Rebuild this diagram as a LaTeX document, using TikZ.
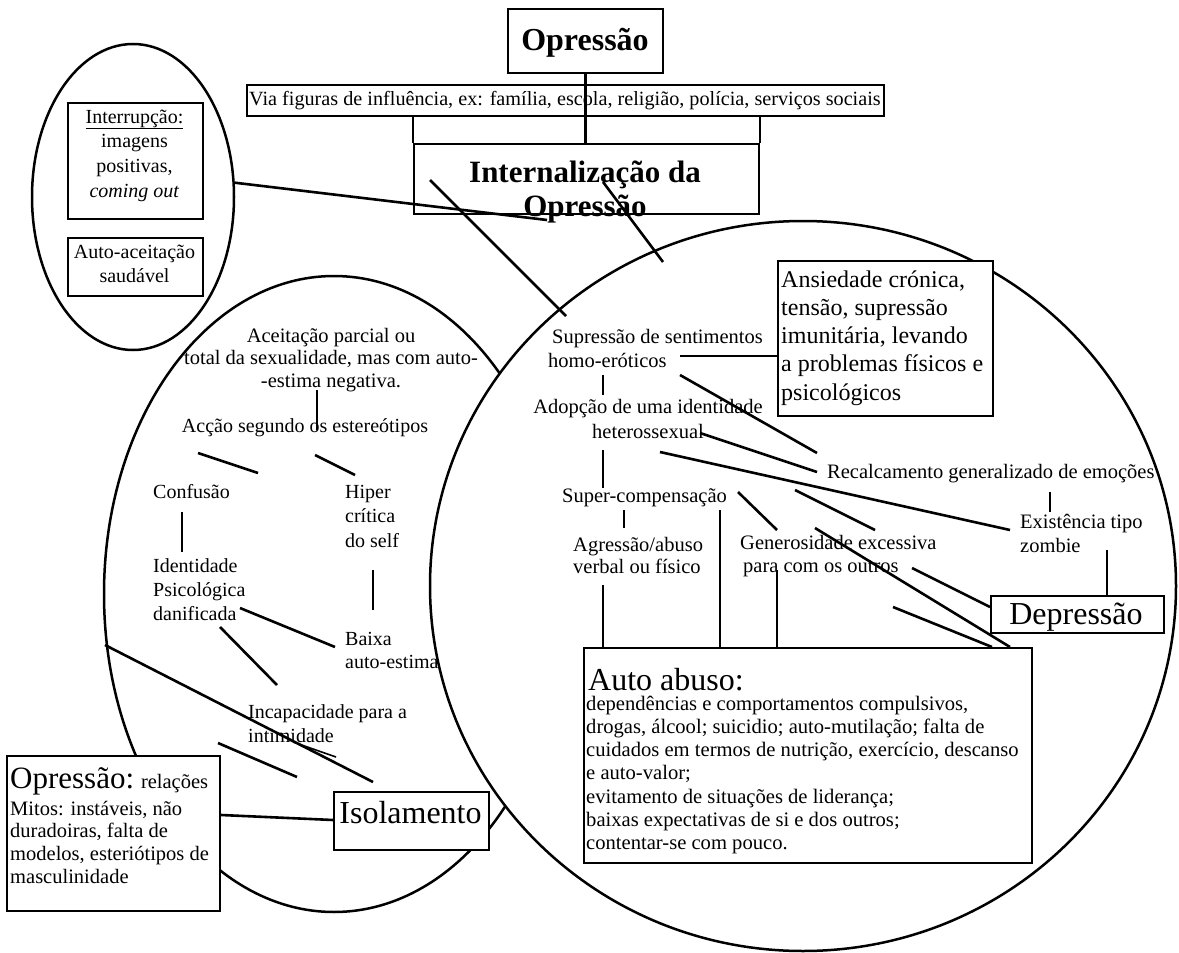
\documentclass[tikz,border=0pt]{standalone}
\usepackage{fontspec}
\setmainfont{Liberation Serif}
\usetikzlibrary{shapes.geometric}
\newcommand\mlines[2]{\begin{tabular}[t]{@{}#1@{}}#2\end{tabular}}
\newcommand\fsz[2]{\fontsize{#1}{#2}\selectfont}
\begin{document}
\begin{tikzpicture}[x=1pt,y=-1pt,
  ln/.style={line width=2.6pt},
  rim/.style={draw, line width=2.5pt, ellipse, inner sep=0pt},
  bx/.style={draw, line width=2.1pt, fill=white, inner sep=0pt, anchor=north west},
  txw/.style={inner sep=0pt, anchor=base west, font=\fsz{20.5}{24}},
  txc/.style={inner sep=0pt, anchor=base, font=\fsz{20.5}{24}},
  bigw/.style={inner sep=0pt, anchor=base west, font=\fsz{32}{34}},
  bigc/.style={inner sep=0pt, anchor=base, font=\fsz{32}{34}},
]
\useasboundingbox[fill=white] (0,0) rectangle (1179,953);

% ---- regions ----
\node[rim, minimum width=202pt, minimum height=306pt] (sell) at (133,197) {};
\node[rim, minimum width=746pt, minimum height=730pt] (rell) at (803,586) {};
\begin{scope}[even odd rule]
  \clip (-20,-20) rectangle (1200,980) (803,586) ellipse [x radius=373pt, y radius=365pt];
  \node[rim, minimum width=460pt, minimum height=636pt] (lell) at (334,594) {};
\end{scope}

% ---- boxes ----
\node[bx, minimum width=155pt, minimum height=64pt] (opr) at (507,8) {};
\node[bx, minimum width=637pt, minimum height=31pt] (via) at (246,84) {};
\node[bx, minimum width=345pt, minimum height=70pt] (intl) at (413,143) {};
\node[bx, minimum width=135pt, minimum height=116pt] (interr) at (67,102) {};
\node[bx, minimum width=135pt, minimum height=58pt] (autoac) at (67,237) {};
\node[bx, minimum width=215pt, minimum height=155pt] (ansi) at (777,260) {};
\node[bx, minimum width=173pt, minimum height=37pt] (dep) at (990,595) {};
\node[bx, minimum width=448pt, minimum height=215pt] (abuso) at (583,647) {};
\node[bx, minimum width=213pt, minimum height=155pt] (oprrel) at (6,755) {};
\node[bx, minimum width=155pt, minimum height=58pt] (iso) at (333,791) {};

% ---- texts in boxes ----
\node[bigc, font=\fsz{32}{34}\bfseries] (oprT) at (585,50) {Opressão};
\node[txw, font=\fsz{20.2}{24}] (viaT) at (249,105) {Via figuras de influência, ex: família, escola, religião, polícia, serviços sociais};
\node[bigc, font=\fsz{31}{34}\bfseries] (intlT) at (585,182) {\mlines{c}{Internalização da\\Opressão}};
\node[txc, font=\fsz{20}{24.7}] (interrT) at (134.5,123) {\mlines{c}{\underline{Interrupção:}\\imagens\\positivas,\\\textit{coming out}}};
\node[txc, font=\fsz{20}{24}] (autoacT) at (134.5,258) {\mlines{c}{Auto-aceitação\\saudável}};
\node[txw, font=\fsz{24}{28.3}] (ansiT) at (781,287) {\mlines{l}{Ansiedade crónica,\\tensão, supressão\\imunitária, levando\\a problemas físicos e\\psicológicos}};
\node[bigc] (depT) at (1076,624) {Depressão};
\node[bigw] (abusoH) at (588,690) {Auto abuso:};
\node[txw, font=\fsz{20.6}{23.3}] (abusoT) at (586,710) {\mlines{l}{dependências e comportamentos compulsivos,\\drogas, álcool; suicidio; auto-mutilação; falta de\\cuidados em termos de nutrição, exercício, descanso\\e auto-valor;\\evitamento de situações de liderança;\\baixas expectativas de si e dos outros;\\contentar-se com pouco.}};
\node[txw] (oprrelH) at (10,788) {{\fsz{31}{34}Opressão:} relações};
\node[txw, font=\fsz{20.5}{22.7}] (oprrelT) at (10,815) {\mlines{l}{Mitos: instáveis, não\\duradoiras, falta de\\modelos, esteriótipos de\\masculinidade}};
\node[bigc] (isoT) at (410.5,823) {Isolamento};

% ---- free texts, left region ----
\node[txc, font=\fsz{20.5}{22.5}] (acei) at (331,342) {\mlines{c}{Aceitação parcial ou\\total da sexualidade, mas com auto-\\-estima negativa.}};
\node[txc, font=\fsz{20}{24}] (accao) at (305,432) {Acção segundo os estereótipos};
\node[txw, font=\fsz{20}{24}] (conf) at (153,498) {Confusão};
\node[txw, font=\fsz{20}{24.5}] (hiper) at (345,498) {\mlines{l}{Hiper\\crítica\\do self}};
\node[txw, font=\fsz{20}{24}] (ident) at (153,572) {\mlines{l}{Identidade\\Psicológica\\danificada}};
\node[txw, font=\fsz{20}{23}] (baixa) at (345,645) {\mlines{l}{Baixa\\auto-estima}};
\node[txw, font=\fsz{20}{24}] (incap) at (248,718) {\mlines{l}{Incapacidade para a\\intimidade}};

% ---- free texts, right region ----
\node[txw] (supr) at (548,343) {\mlines{l}{\hspace{4pt}Supressão de sentimentos\\homo-eróticos}};
\node[txc, font=\fsz{20.5}{25}] (adop) at (648,413) {\mlines{c}{Adopção de uma identidade\\heterossexual}};
\node[txw] (super) at (562,502) {Super-compensação};
\node[txw, font=\fsz{20.5}{22.5}] (agress) at (573,551) {\mlines{l}{Agressão/abuso\\verbal ou físico}};
\node[txw, font=\fsz{20.5}{23.5}] (gener) at (740,549) {\mlines{l}{Generosidade excessiva\\\hspace{3pt}para com os outros}};
\node[txw] (recal) at (827,478) {Recalcamento generalizado de emoções};
\node[txw] (exist) at (1020,528) {\mlines{l}{Existência tipo\\zombie}};

% ---- connectors, top ----
\draw[ln] (opr.south) -- (opr.south |- intl.north);
\draw[ln] (intl.north west) -- (intl.north west |- via.south);
\draw[ln] (intl.north east) -- (intl.north east |- via.south);
\coordinate (iA) at (547,220);
\coordinate (iB1) at (430,180);
\coordinate (iB2) at (566,316);
\coordinate (iC1) at (603,182);
\coordinate (iC2) at (663,262);
\draw[ln] (sell.8) -- (iA);
\draw[ln] (iB1) -- (iB2);
\draw[ln] (iC1) -- (iC2);

% ---- connectors, left region ----
\draw[ln] (317,390) -- (317,430);
\draw[ln] (198,453) -- (258,473);
\draw[ln] (315,455) -- (355,475);
\draw[ln] (182,512) -- (182,552);
\draw[ln] (373,570) -- (373,610);
\draw[ln] (240,608) -- (335,647);
\draw[ln] (220,627) -- (277,685);
\coordinate (lE) at (105,645);
\coordinate (isoTop) at (373,782);
\draw[ln] (lE) -- (isoTop);
\draw[line width=1.6pt] (293,742) -- (336,757);
\draw[ln] (218,743) -- (297,777);
\draw[ln] (oprrel.east |- 0,815) -- (iso.west |- 0,820);

% ---- connectors, right region ----
\draw[ln] (680,356) -- (ansi.west |- 0,356);
\draw[ln] (603,375) -- (603,395);
\draw[ln] (680,375) -- (817,453);
\draw[ln] (700,433) -- (817,472);
\draw[ln] (660,452) -- (1010,530);
\draw[ln] (603,450) -- (603,488);
\draw[ln] (624,510) -- (624,528);
\draw[ln] (738,492) -- (777,530);
\draw[ln] (795,490) -- (875,530);
\draw[ln] (815,528) -- (1010,647);
\draw[ln] (912,568) -- (dep.west |- 0,607);
\draw[ln] (893,607) -- (992,647);
\draw[ln] (1050,492) -- (1050,512);
\draw[ln] (1107,550) -- (1107,595);
\draw[ln] (603,585) -- (603,647);
\draw[ln] (720,510) -- (720,647);
\draw[ln] (777,570) -- (777,647);
\end{tikzpicture}
\end{document}
